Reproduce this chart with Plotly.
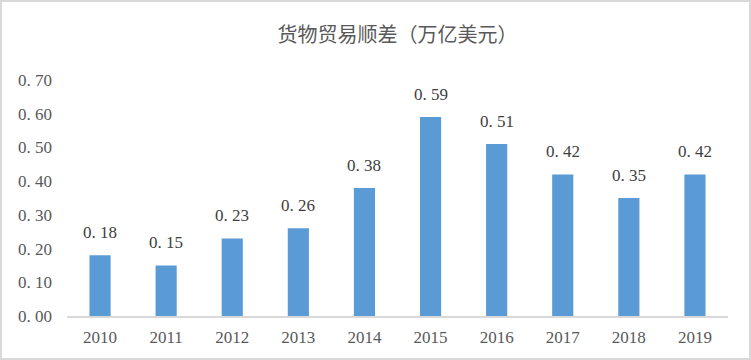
import plotly.graph_objects as go

years = ["2010", "2011", "2012", "2013", "2014", "2015", "2016", "2017", "2018", "2019"]
surplus = [0.18, 0.15, 0.23, 0.26, 0.38, 0.59, 0.51, 0.42, 0.35, 0.42]
y_ticks = [0.0, 0.1, 0.2, 0.3, 0.4, 0.5, 0.6, 0.7]
y_tick_text = ["0. 00", "0. 10", "0. 20", "0. 30", "0. 40", "0. 50", "0. 60", "0. 70"]
bar_labels = ["0. " + f"{v:.2f}"[2:] for v in surplus]

W, H = 751, 360
ml, mr, mt, mb = 67, 23, 80, 44
pw, ph = W - ml - mr, H - mt - mb

font_fam = "Liberation Serif, 'Noto Sans CJK SC', serif"

fig = go.Figure(go.Bar(
    x=years, y=surplus,
    marker=dict(color="#5B9BD5", line=dict(width=0)),
    width=0.32,
    hoverinfo="x+y",
))

# category axis: annotation x uses the category's serial index
annotations = [
    dict(x=i, y=v, xref="x", yref="y", text=lbl, showarrow=False,
         yanchor="bottom", yshift=11,
         font=dict(family=font_fam, size=17, color="#404040"))
    for i, (v, lbl) in enumerate(zip(surplus, bar_labels))
]

fig.update_layout(
    width=W, height=H,
    margin=dict(l=ml, r=mr, t=mt, b=mb),
    paper_bgcolor="white", plot_bgcolor="white",
    title=dict(text="货物贸易顺差（万亿美元）", x=0.5, xref="paper", y=1 - 35 / H, yanchor="middle",
               font=dict(family="'Noto Sans CJK SC', sans-serif", size=20, color="#595959")),
    showlegend=False,
    annotations=annotations,
    xaxis=dict(type="category", showgrid=False, showline=True, linecolor="#D9D9D9", linewidth=1.5,
               ticks="", tickfont=dict(family=font_fam, size=17, color="#595959"),
               ticklabelstandoff=5, automargin=False),
    yaxis=dict(range=[0, 0.7], showgrid=False, zeroline=False, showline=False,
               tickvals=y_ticks, ticktext=y_tick_text, ticks="",
               tickfont=dict(family=font_fam, size=17, color="#595959"),
               ticklabelstandoff=14, automargin=False),
    shapes=[dict(type="rect", xref="paper", yref="paper",
                 x0=(-ml + 1) / pw, x1=1 + (mr - 1) / pw,
                 y0=(-mb + 1) / ph, y1=1 + (mt - 1) / ph,
                 line=dict(color="#D9D9D9", width=2), fillcolor="rgba(0,0,0,0)", layer="below")],
)

fig.write_html("out.html", config={"displayModeBar": False},
               post_script="document.body.style.margin='0';")
